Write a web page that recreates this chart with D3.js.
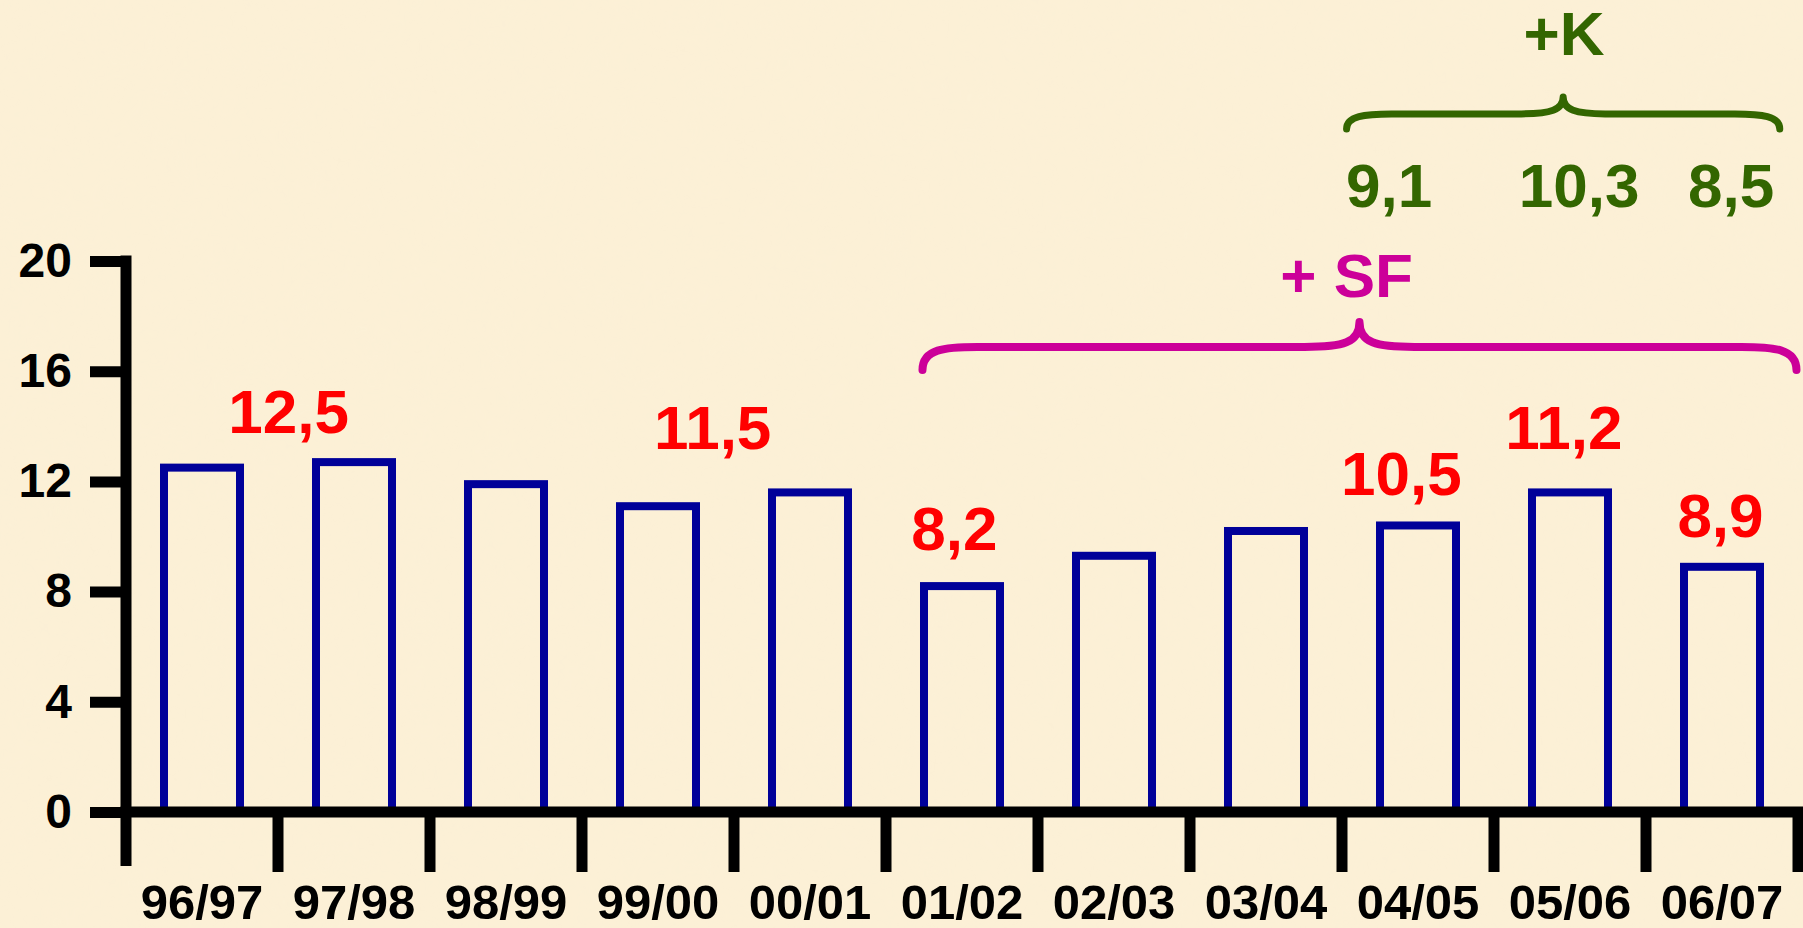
<!DOCTYPE html>
<html>
<head>
<meta charset="utf-8">
<script src="https://cdn.jsdelivr.net/npm/d3@7"></script>
<style>
  body { margin: 0; background: #fcf0d6; }
  svg { display: block; }
  text { font-family: "Liberation Sans", Arial, sans-serif; font-weight: bold; }
</style>
</head>
<body>
<div id="vis"></div>
<script>
// Data
var categories = ["96/97", "97/98", "98/99", "99/00", "00/01", "01/02", "02/03", "03/04", "04/05", "05/06", "06/07"];
var values = [12.5, 12.7, 11.9, 11.1, 11.6, 8.2, 9.3, 10.2, 10.4, 11.6, 8.9];
var yTicks = [0, 4, 8, 12, 16, 20];

var redLabels = ["12,5", "11,5", "8,2", "10,5", "11,2", "8,9"];
var greenLabels = ["9,1", "10,3", "8,5"];
var kTitle = "+K";
var sfTitle = "+ SF";

// Annotation placement (band units along x, value units along y)
var redPos = [[1.07, 13.76], [3.86, 13.18], [5.45, 9.51], [8.39, 11.51], [9.46, 13.18], [10.49, 9.98]];
var greenPos = [[8.31, 21.96], [9.56, 21.96], [10.56, 21.96]];
var kPos = [9.46, 27.48];
var sfPos = [8.03, 18.69];
// brace: [start, end, tip y, line y, end y, end radius, tip radius]
var sfBrace = [5.24, 10.99, 17.79, 16.88, 16.04, 55, 55];
var kBrace = [8.03, 10.88, 25.95, 25.34, 24.79, 45, 42];

// Layout Settings
var width = 1803,
	height = 928;
var x0 = 126, x1 = 1798, yZero = 812, yTop = 261;

var svg = d3.select("#vis")
			.append("svg")
			.attr("width", width)
			.attr("height", height);

// parchment background
var defs = svg.append("defs");
var filt = defs.append("filter")
			   .attr("id", "paper")
			   .attr("x", 0).attr("y", 0).attr("width", "100%").attr("height", "100%");
filt.append("feTurbulence")
	.attr("type", "fractalNoise")
	.attr("baseFrequency", 0.025)
	.attr("numOctaves", 3)
	.attr("seed", 4);
filt.append("feColorMatrix")
	.attr("type", "matrix")
	.attr("values", "0 0 0 0 0.96  0 0 0 0 0.88  0 0 0 0 0.70  0 0 0 0.5 -0.1");

svg.append("rect")
   .attr("width", width)
   .attr("height", height)
   .attr("fill", "#fcf0d6");
svg.append("rect")
   .attr("width", width)
   .attr("height", height)
   .attr("filter", "url(#paper)")
   .attr("opacity", 0.35);

// scales
var x = d3.scaleBand()
		  .domain(categories)
		  .range([x0, x1])
		  .paddingInner(0.5)
		  .paddingOuter(0.25);

var y = d3.scaleLinear()
		  .domain([0, 20])
		  .range([yZero, yTop]);

// band units for free annotations
var u = d3.scaleLinear()
		  .domain([0, categories.length])
		  .range([x0, x1]);

////  Bars  ////
svg.append("g")
   .attr("class", "bars")
   .selectAll("rect")
   .data(values)
   .enter()
   .append("rect")
   .attr("x", function(d, i) {return x(categories[i]);})
   .attr("y", function(d) {return y(d);})
   .attr("width", x.bandwidth())
   .attr("height", function(d) {return yZero - y(d);})
   .attr("fill", "none")
   .attr("stroke", "#000099")
   .attr("stroke-width", 8);

////  Y axis  ////
var yAxis = svg.append("g")
			   .attr("transform", "translate(" + x0 + ",0)")
			   .call(d3.axisLeft(y).tickValues(yTicks).tickSize(36).tickPadding(18).tickSizeOuter(0));
yAxis.select(".domain").remove();
yAxis.selectAll(".tick line")
	 .attr("stroke", "#000")
	 .attr("stroke-width", 11);
yAxis.selectAll(".tick text")
	 .attr("fill", "#000")
	 .style("font-size", "48px")
	 .style("font-family", "'Liberation Sans', Arial, sans-serif")
	 .style("font-weight", "bold");

svg.append("line")
   .attr("x1", x0).attr("x2", x0)
   .attr("y1", y(20) - 5.5)
   .attr("y2", yZero + 54)
   .attr("stroke", "#000")
   .attr("stroke-width", 11);

////  X axis  ////
svg.append("line")
   .attr("x1", x0 - 5.5).attr("x2", width)
   .attr("y1", yZero).attr("y2", yZero)
   .attr("stroke", "#000")
   .attr("stroke-width", 11);

svg.append("g")
   .attr("class", "xticks")
   .selectAll("line")
   .data(d3.range(1, categories.length + 1))
   .enter()
   .append("line")
   .attr("x1", function(i) {return x0 + i * x.step();})
   .attr("x2", function(i) {return x0 + i * x.step();})
   .attr("y1", yZero)
   .attr("y2", yZero + 60)
   .attr("stroke", "#000")
   .attr("stroke-width", 11);

var xAxis = svg.append("g")
			   .attr("transform", "translate(0," + yZero + ")")
			   .call(d3.axisBottom(x).tickSize(0));
xAxis.select(".domain").remove();
xAxis.selectAll(".tick text")
	 .attr("y", 107)
	 .attr("dy", null)
	 .attr("fill", "#000")
	 .style("font-size", "49px")
	 .style("font-family", "'Liberation Sans', Arial, sans-serif")
	 .style("font-weight", "bold");

////  Annotations  ////
function label(txt, pos, color, size) {
	svg.append("text")
	   .attr("x", u(pos[0]))
	   .attr("y", y(pos[1]))
	   .attr("text-anchor", "middle")
	   .attr("fill", color)
	   .style("font-size", size + "px")
	   .text(txt);
}

redLabels.forEach(function(t, i) { label(t, redPos[i], "#ff0000", 62); });
greenLabels.forEach(function(t, i) { label(t, greenPos[i], "#336600", 62); });
label(kTitle, kPos, "#336600", 62);
label(sfTitle, sfPos, "#cc0099", 62);

// curly brace
function brace(b, color, sw) {
	var a = u(b[0]), c = u(b[1]), m = (a + c) / 2;
	var yt = y(b[2]), yl = y(b[3]), ye = y(b[4]);
	var r = b[5], r2 = b[6];
	var p = d3.path();
	p.moveTo(a, ye);
	p.bezierCurveTo(a, yl + 2, a + r * 0.4, yl, a + r, yl);
	p.lineTo(m - r2, yl);
	p.bezierCurveTo(m - r2 * 0.3, yl, m, yl - 4, m, yt);
	p.bezierCurveTo(m, yl - 4, m + r2 * 0.3, yl, m + r2, yl);
	p.lineTo(c - r, yl);
	p.bezierCurveTo(c - r * 0.4, yl, c, yl + 2, c, ye);
	svg.append("path")
	   .attr("d", p.toString())
	   .attr("fill", "none")
	   .attr("stroke", color)
	   .attr("stroke-width", sw)
	   .attr("stroke-linecap", "round")
	   .attr("stroke-linejoin", "round");
}

brace(sfBrace, "#cc0099", 8);
brace(kBrace, "#336600", 7);
</script>
</body>
</html>
